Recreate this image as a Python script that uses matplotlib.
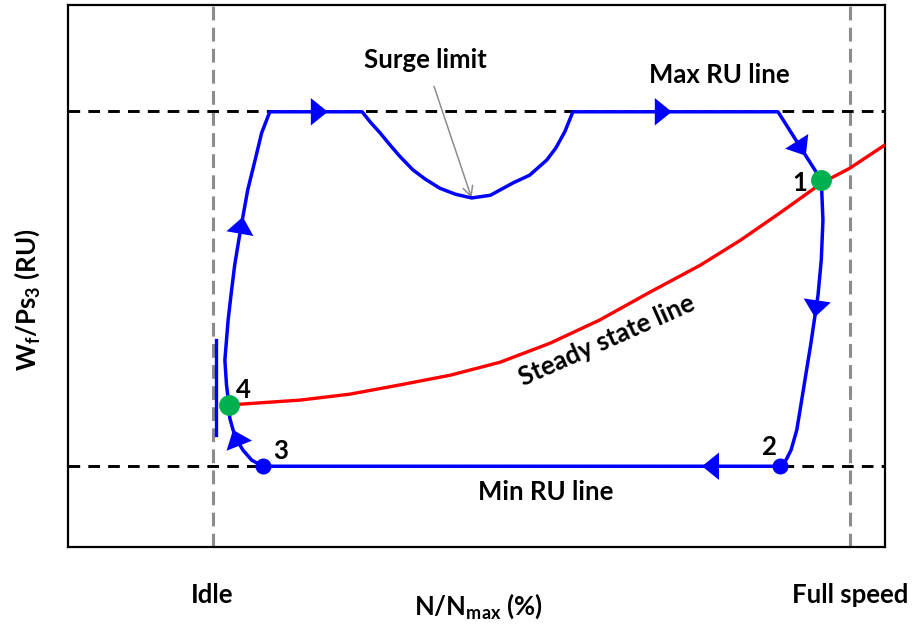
import matplotlib
matplotlib.use("Agg")
import matplotlib.pyplot as plt

plt.rcParams["font.family"] = ["Lato", "DejaVu Sans"]
plt.rcParams["font.weight"] = "bold"
plt.rcParams["axes.labelweight"] = "bold"
plt.rcParams["mathtext.default"] = "regular"
FS = 18.5

# reference levels (schematic units, 0-100)
idle_x = 17.7
full_x = 95.7
max_ru = 80.4
min_ru = 14.9

# steady state line
steady_x = [19.7, 23.5, 28.4, 34.5, 40.6, 46.8, 52.9, 59.0, 65.1, 71.2, 77.4, 82.3, 87.1, 92.3, 95.7, 100.0]
steady_y = [26.2, 26.6, 27.1, 28.2, 29.9, 31.7, 34.1, 37.6, 41.9, 47.0, 52.0, 56.6, 61.6, 67.2, 69.9, 74.2]

# acceleration / deceleration loop, starting and ending at point 4
loop_x = [19.7, 19.4, 19.2, 19.4, 19.6, 19.95, 20.4, 20.9, 21.4, 22.0, 22.9, 23.7, 24.7,
          31.8, 36.0,
          37.0, 38.2, 39.4, 40.6, 42.2, 43.7, 45.5, 47.4, 49.4, 51.7, 54.5, 56.5, 58.6, 59.7, 60.8, 61.8,
          73.9, 86.9,
          90.3, 92.2,
          92.4, 92.2, 91.8, 91.4, 90.9, 90.4, 89.8, 89.2, 88.5, 87.9, 87.2,
          77.6, 23.9,
          22.5, 21.4, 20.7, 20.2, 19.8, 19.7]
loop_y = [26.2, 29.9, 34.5, 38.2, 41.9, 46.5, 52.0, 56.6, 60.9, 65.9, 71.4, 76.4, 80.3,
          80.3, 80.3,
          78.4, 76.4, 74.2, 72.1, 69.6, 67.9, 66.2, 65.1, 64.4, 64.9, 67.2, 68.6, 71.4, 73.6, 76.6, 80.3,
          80.3, 80.3,
          72.2, 67.7,
          60.3, 53.0, 46.5, 42.4, 37.3, 32.7, 27.1, 21.6, 17.9, 16.1, 14.9,
          14.9, 14.9,
          16.0, 17.9, 19.7, 21.6, 23.8, 26.2]
arrow_idx = [8, 13, 31, 33, 38, 46, 51]
surge_min_idx = 23

# operating points
green_x = [92.2, 19.7]
green_y = [67.7, 26.2]
green_lbl = ["1", "4"]
blue_x = [87.2, 23.9]
blue_y = [14.9, 14.9]
blue_lbl = ["2", "3"]
lbl_x = [89.6, 21.5, 85.8, 26.0]
lbl_y = [67.2, 29.0, 18.5, 17.8]

# idle limiter mark
idle_bar_x = [18.1, 18.1]
idle_bar_y = [38.2, 20.7]

fig = plt.figure(figsize=(9.14, 6.27), dpi=100)
ax = fig.add_axes([0.0744, 0.1276, 0.8939, 0.8644])
ax.set_xlim(0, 100)
ax.set_ylim(0, 100)

for v in [idle_x, full_x]:
    ax.axvline(v, color="#8c8c8c", lw=2.2, ls=(0, (4.5, 2.4)), zorder=1)
for h in [max_ru, min_ru]:
    ax.axhline(h, color="black", lw=2.1, ls=(0, (4.0, 2.8)), zorder=1)

ax.plot(steady_x, steady_y, color="#ff0000", lw=2.4, zorder=3)
ax.plot(loop_x, loop_y, color="#0000ff", lw=2.5, zorder=4, solid_joinstyle="round")
ax.plot(idle_bar_x, idle_bar_y, color="#0000ff", lw=2.4, zorder=4)

for i in arrow_idx:
    ax.annotate("", xy=(loop_x[i], loop_y[i]), xytext=(loop_x[i - 1], loop_y[i - 1]),
                arrowprops=dict(arrowstyle="-|>,head_length=0.94,head_width=0.76",
                                mutation_scale=13, color="#0000ff", lw=0,
                                shrinkA=0, shrinkB=0), zorder=5)

ax.plot(green_x, green_y, "o", color="#00b050", ms=14, zorder=6)
ax.plot(blue_x, blue_y, "o", color="#0000ff", ms=10.5, zorder=6)
for t, x, y in zip(green_lbl + blue_lbl, lbl_x, lbl_y):
    ax.text(x, y, t, fontsize=FS, ha="center", va="center", zorder=7)

ax.annotate("Surge limit", xy=(loop_x[surge_min_idx], loop_y[surge_min_idx]),
            xytext=(43.7, 89.9), fontsize=FS, ha="center", va="center",
            arrowprops=dict(arrowstyle="->", color="#8c8c8c", lw=1.1,
                            shrinkA=9, shrinkB=0, mutation_scale=18))
ax.text(79.7, 87.1, "Max RU line", fontsize=FS, ha="center", va="center")
ax.text(58.5, 10.1, "Min RU line", fontsize=FS, ha="center", va="center")
ax.text(66.0, 38.2, "Steady state line", fontsize=FS, ha="center", va="center",
        rotation=24)

ax.set_xticks([idle_x, full_x])
ax.set_xticklabels(["Idle", "Full speed"], fontsize=FS)
ax.tick_params(axis="x", length=0, pad=26)
ax.set_yticks([])
ax.set_xlabel("N/N$_{max}$ (%)", fontsize=FS)
ax.xaxis.set_label_coords(0.502, -0.083)
ax.set_ylabel("W$_f$/Ps$_3$ (RU)", fontsize=FS)
ax.yaxis.set_label_coords(-0.032, 0.456)
for s in ax.spines.values():
    s.set_linewidth(1.6)

fig.savefig("out.png", dpi=100)
